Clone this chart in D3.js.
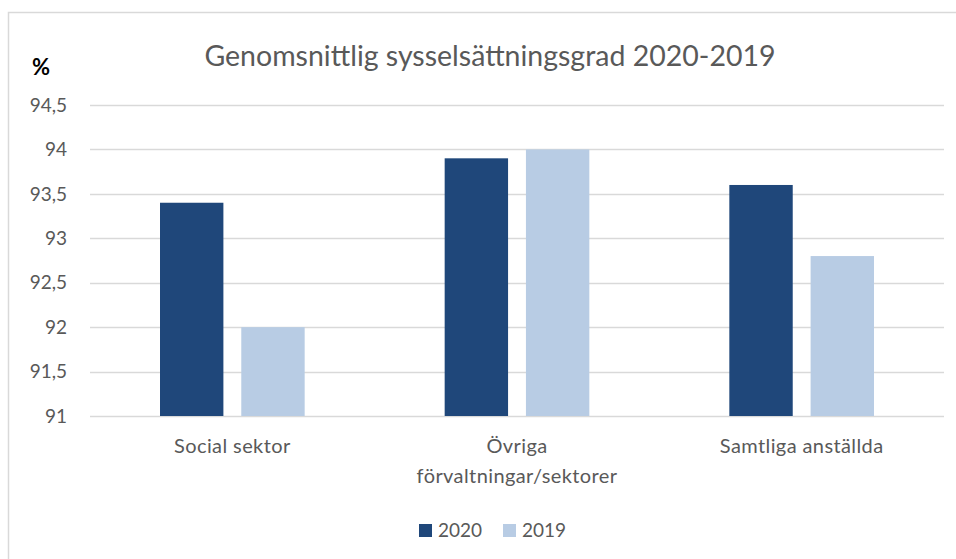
<!DOCTYPE html>
<html>
<head>
<meta charset="utf-8">
<script src="https://cdn.jsdelivr.net/npm/d3@7"></script>
<style>
  body { margin: 0; background: #fff; }
  text { font-family: Lato, "Open Sans", sans-serif; }
</style>
</head>
<body>
<div id="chart"></div>
<script>
// data
const categories = [["Social sektor"], ["Övriga", "förvaltningar/sektorer"], ["Samtliga anställda"]];
const seriesNames = ["2020", "2019"];
const values2020 = [93.4, 93.9, 93.6];
const values2019 = [92.0, 94.0, 92.8];
const yTicks = [91, 91.5, 92, 92.5, 93, 93.5, 94, 94.5];
const colours = ["#1f477a", "#b8cce4"];

const width = 956, height = 559;
const margin = { top: 105, right: 12, bottom: 143, left: 90 };
const innerW = width - margin.left - margin.right;
const innerH = height - margin.top - margin.bottom;

const svg = d3.select("#chart").append("svg")
  .attr("width", width)
  .attr("height", height);

// outer frame (right and bottom edges fall outside the picture)
svg.append("rect")
  .attr("x", 8.5).attr("y", 12.5)
  .attr("width", 960).attr("height", 560)
  .attr("fill", "none")
  .attr("stroke", "#d9d9d9")
  .attr("stroke-width", 1.5);

const chart = svg.append("g")
  .attr("transform", `translate(${margin.left},${margin.top})`);

const x0 = d3.scaleBand()
  .domain(d3.range(categories.length))
  .range([0, innerW])
  .paddingInner(0)
  .paddingOuter(0);

const x1 = d3.scaleBand()
  .domain(seriesNames)
  .range([70, x0.bandwidth() - 70])
  .paddingInner(0.22);

const y = d3.scaleLinear().domain([91, 94.5]).range([innerH, 0]);

// gridlines
chart.append("g")
  .selectAll("line")
  .data(yTicks)
  .join("line")
  .attr("x1", 0).attr("x2", innerW)
  .attr("y1", d => Math.round(y(d)) + 0.5)
  .attr("y2", d => Math.round(y(d)) + 0.5)
  .attr("stroke", "#d9d9d9")
  .attr("stroke-width", 1.5);

// y labels
chart.append("g")
  .selectAll("text")
  .data(yTicks)
  .join("text")
  .attr("x", -23)
  .attr("y", d => y(d))
  .attr("dy", "0.35em")
  .attr("text-anchor", "end")
  .attr("fill", "#595959")
  .style("font-size", "19px")
  .text(d => d3.format(",")(d).replace(".", ","));

// bars
const rows = categories.map((c, i) => [values2020[i], values2019[i]]);
const groups = chart.selectAll(".group")
  .data(rows)
  .join("g")
  .attr("class", "group")
  .attr("transform", (d, i) => `translate(${x0(i)},0)`);

groups.selectAll("rect")
  .data(d => d.map((v, j) => ({ key: seriesNames[j], value: v, j })))
  .join("rect")
  .attr("x", d => x1(d.key))
  .attr("width", x1.bandwidth())
  .attr("y", d => y(d.value))
  .attr("height", d => innerH - y(d.value))
  .attr("fill", d => colours[d.j]);

// x labels
chart.append("g")
  .selectAll("text")
  .data(categories)
  .join("text")
  .attr("x", (d, i) => x0(i) + x0.bandwidth() / 2)
  .attr("y", innerH + 37)
  .attr("text-anchor", "middle")
  .attr("fill", "#595959")
  .style("font-size", "20px")
  .style("letter-spacing", "0.4px")
  .each(function (d) {
    d3.select(this).selectAll("tspan")
      .data(d)
      .join("tspan")
      .attr("x", d3.select(this).attr("x"))
      .attr("dy", (t, k) => k === 0 ? 0 : 30)
      .text(t => t);
  });

// title
svg.append("text")
  .attr("x", 490)
  .attr("y", 66)
  .attr("text-anchor", "middle")
  .attr("fill", "#595959")
  .style("font-size", "28.5px")
  .text("Genomsnittlig sysselsättningsgrad 2020-2019");

// axis unit
svg.append("text")
  .attr("x", 32)
  .attr("y", 75)
  .attr("fill", "#000")
  .style("font-size", "22px")
  .style("font-weight", "bold")
  .text("%");

// legend
const legend = svg.append("g").attr("transform", "translate(419,524)");
const items = legend.selectAll("g")
  .data(seriesNames)
  .join("g")
  .attr("transform", (d, i) => `translate(${i * 84},0)`);
items.append("rect")
  .attr("width", 13).attr("height", 13)
  .attr("fill", (d, i) => colours[i]);
items.append("text")
  .attr("x", 19)
  .attr("y", 13)
  .attr("fill", "#595959")
  .style("font-size", "19px")
  .text(d => d);
</script>
</body>
</html>
